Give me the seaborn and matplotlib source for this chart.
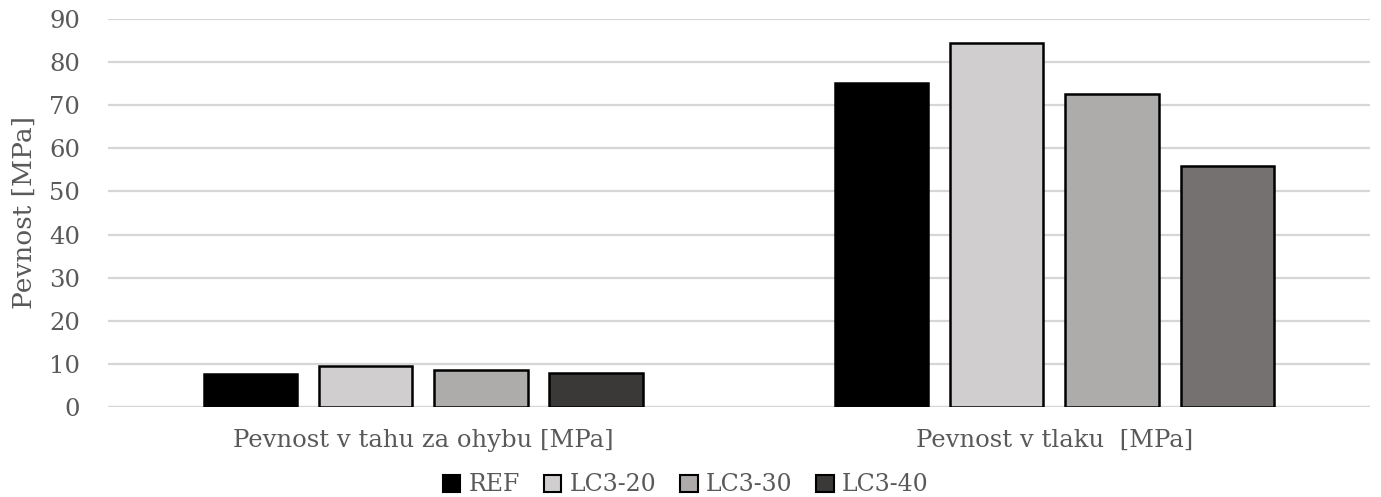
import pandas as pd
import matplotlib.pyplot as plt
import seaborn as sns
from matplotlib.patches import Patch

# data
categories = ["Pevnost v tahu za ohybu [MPa]", "Pevnost v tlaku  [MPa]"]
mixes = ["REF", "LC3-20", "LC3-30", "LC3-40"]
flexural = [7.6, 9.6, 8.7, 7.8]
compressive = [75.2, 84.3, 72.5, 55.8]
colors = ["#000000", "#d0cece", "#aeaaaa", "#3b3838"]
lc3_40_compressive_color = "#757171"

df = pd.DataFrame({
    "category": [categories[0]] * 4 + [categories[1]] * 4,
    "mix": mixes * 2,
    "value": flexural + compressive,
})

sns.set_theme(style="white")
plt.rcParams["font.family"] = ["DejaVu Serif"]
text_color = "#595959"

fig, ax = plt.subplots(figsize=(13.81, 4.97), dpi=100)
fig.subplots_adjust(left=0.078, right=0.992, top=0.962, bottom=0.181)

sns.barplot(data=df, x="category", y="value", hue="mix", order=categories,
            hue_order=mixes, palette=colors, width=0.73, gap=0.19,
            edgecolor="black", linewidth=1.8, legend=False, ax=ax, zorder=3)

# the LC3-40 bar in the compressive group is drawn lighter in the original
for bar in ax.patches:
    if bar.get_x() > 0.5 and abs(bar.get_height() - compressive[3]) < 0.01:
        bar.set_facecolor(lc3_40_compressive_color)

ax.set_ylim(0, 90)
ax.set_yticks(range(0, 91, 10))
ax.set_xlim(-0.5, 1.5)
ax.yaxis.grid(True, color="#d6d6d6", linewidth=1.6, zorder=0)
ax.set_axisbelow(True)
for s in ax.spines.values():
    s.set_visible(False)
ax.axhline(0, color="#d6d6d6", linewidth=1.6, zorder=1)
ax.tick_params(axis="both", length=0, labelsize=17.5, labelcolor=text_color)
ax.tick_params(axis="y", pad=20)
ax.tick_params(axis="x", pad=16)
ax.set_xlabel("")
ax.set_ylabel("Pevnost [MPa]", fontsize=19, color=text_color, labelpad=9)

handles = [Patch(facecolor=c, edgecolor="black", linewidth=1.5) for c in colors]
ax.legend(handles, mixes, loc="lower center", bbox_to_anchor=(0.458, -0.285),
          ncol=4, frameon=False, fontsize=17, handlelength=0.75, handleheight=0.75,
          handletextpad=0.35, columnspacing=1.0, labelcolor=text_color)

plt.savefig("out.png", dpi=100)
